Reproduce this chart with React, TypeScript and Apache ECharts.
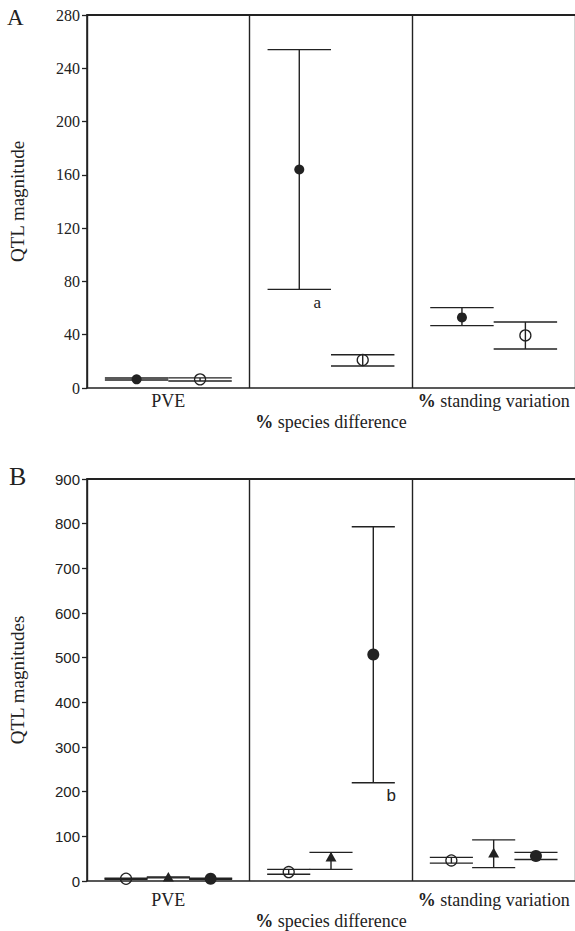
import React, { useEffect, useRef } from 'react';
import * as echarts from 'echarts';

const categories = ['PVE', '% species difference', '% standing variation'];

// Panel A (QTL magnitude)
const aFilledMean = [6.5, 164, 53];
const aFilledLow = [6, 74, 46.8];
const aFilledHigh = [7.5, 254, 60.3];
const aOpenMean = [6.5, 21, 39.5];
const aOpenLow = [5.3, 16.5, 29.3];
const aOpenHigh = [7.6, 25, 49.5];
const aNotes = ['', 'a', ''];

// Panel B (QTL magnitudes)
const bOpenMean = [5, 20, 46];
const bOpenLow = [4, 15, 40];
const bOpenHigh = [6, 26, 53];
const bTriMean = [8, 53, 62];
const bTriLow = [7, 26, 30];
const bTriHigh = [9, 64, 92];
const bFilledMean = [5, 507, 56];
const bFilledLow = [4, 220, 48];
const bFilledHigh = [6, 793, 64];
const bNotes = ['', 'b', ''];

const INK = '#222';
const SERIF = 'Liberation Serif';
const SANS = 'Liberation Sans';

function rows(mean: number[], low: number[], high: number[]) {
  return categories.map((_, i) => [i, mean[i], low[i], high[i]]);
}

function errRender(
  n: number,
  idx: number,
  spacing: number,
  capFrac: number,
  marker: 'filled' | 'open' | 'tri',
  r: number,
  notes: string[] | null,
  noteFamily: string,
  noteSize: number
) {
  return (params: any, api: any) => {
    const cat = api.value(0);
    const band = api.size([1, 0])[0];
    const base = api.coord([cat, 0]);
    const cx = base[0] + (idx - (n - 1) / 2) * spacing * band;
    const ym = api.coord([cat, api.value(1)])[1];
    const yl = api.coord([cat, api.value(2)])[1];
    const yh = api.coord([cat, api.value(3)])[1];
    const hw = (capFrac * band) / 2;
    const ls = { stroke: INK, lineWidth: 1.4 };
    const children: any[] = [
      { type: 'line', shape: { x1: cx, y1: yl, x2: cx, y2: yh }, style: ls },
      { type: 'line', shape: { x1: cx - hw, y1: yl, x2: cx + hw, y2: yl }, style: ls },
      { type: 'line', shape: { x1: cx - hw, y1: yh, x2: cx + hw, y2: yh }, style: ls },
    ];
    if (marker === 'filled') {
      children.push({ type: 'circle', shape: { cx, cy: ym, r }, style: { fill: INK } });
    } else if (marker === 'open') {
      children.push({
        type: 'circle',
        shape: { cx, cy: ym, r },
        style: { fill: 'none', stroke: INK, lineWidth: 1.3 },
      });
    } else {
      children.push({
        type: 'polygon',
        shape: { points: [[cx, ym - r], [cx - r, ym + r * 0.75], [cx + r, ym + r * 0.75]] },
        style: { fill: INK },
      });
    }
    const note = notes ? notes[params.dataIndex] : '';
    if (note) {
      children.push({
        type: 'text',
        style: {
          text: note,
          x: cx + 18,
          y: yl + 13,
          align: 'center',
          verticalAlign: 'middle',
          fontFamily: noteFamily,
          fontSize: noteSize,
          fill: INK,
        },
      });
    }
    return { type: 'group', children };
  };
}

function labelFormatter(value: string, index: number) {
  const rest = value.startsWith('% ') ? value.slice(2) : value;
  const head = value.startsWith('% ') ? '{b|%} ' : '';
  const line = head + '{t|' + rest + '}';
  return index === 1 ? '{t| }\n' + line : line;
}

export default function App() {
  const ref = useRef<HTMLDivElement>(null);
  useEffect(() => {
    if (!ref.current) return;
    const chart = echarts.init(ref.current, null, { renderer: 'svg' });

    const xBottom = (gridIndex: number, margin: number) => ({
      type: 'category',
      gridIndex,
      data: categories,
      position: 'bottom',
      axisLine: { show: true, lineStyle: { color: INK, width: 1.6 } },
      axisTick: { show: false },
      splitLine: { show: true, lineStyle: { color: INK, width: 1.4 } },
      axisLabel: {
        interval: 0,
        margin,
        color: INK,
        fontFamily: SERIF,
        fontSize: 18,
        lineHeight: 21,
        formatter: labelFormatter,
        rich: {
          t: { fontFamily: SERIF, fontSize: 18, color: INK, lineHeight: 21 },
          b: { fontFamily: SERIF, fontSize: 18, fontWeight: 'bold', color: INK, lineHeight: 21 },
        },
      },
    });
    const xTop = (gridIndex: number) => ({
      type: 'category',
      gridIndex,
      data: categories,
      position: 'top',
      axisLine: { show: true, lineStyle: { color: INK, width: 1.8 } },
      axisTick: { show: false },
      axisLabel: { show: false },
      splitLine: { show: false },
    });

    const option: any = {
      animation: false,
      backgroundColor: '#fff',
      textStyle: { fontFamily: SERIF },
      grid: [
        { left: 77, top: 15, width: 498, height: 373 },
        { left: 77, top: 479, width: 498, height: 405 },
      ],
      xAxis: [xBottom(0, 2), xTop(0), xBottom(1, 8), xTop(1)],
      yAxis: [
        {
          type: 'value',
          gridIndex: 0,
          min: 0,
          max: 280,
          interval: 40,
          name: 'QTL magnitude',
          nameLocation: 'middle',
          nameGap: 60,
          nameRotate: 90,
          nameTextStyle: { fontFamily: SERIF, fontSize: 19, color: INK },
          axisLine: { show: true, lineStyle: { color: INK, width: 1.6 } },
          axisTick: { show: true, length: 5, lineStyle: { color: INK, width: 1.3 } },
          axisLabel: { fontFamily: SERIF, fontSize: 16, color: INK, margin: 7 },
          splitLine: { show: false },
        },
        {
          type: 'value',
          gridIndex: 1,
          min: 0,
          max: 900,
          interval: 100,
          name: 'QTL magnitudes',
          nameLocation: 'middle',
          nameGap: 60,
          nameRotate: 90,
          nameTextStyle: { fontFamily: SERIF, fontSize: 19, color: INK },
          axisLine: { show: true, lineStyle: { color: INK, width: 1.6 } },
          axisTick: { show: true, length: 5, lineStyle: { color: INK, width: 1.3 } },
          axisLabel: { fontFamily: SANS, fontSize: 15, color: INK, margin: 7 },
          splitLine: { show: false },
        },
      ],
      graphic: [
        {
          type: 'text',
          left: 7,
          top: 6,
          style: { text: 'A', fontFamily: SERIF, fontSize: 23, fill: INK },
        },
        {
          type: 'text',
          left: 9,
          top: 463,
          style: { text: 'B', fontFamily: SERIF, fontSize: 26, fill: INK },
        },
      ],
      series: [
        {
          type: 'custom',
          name: 'A filled',
          xAxisIndex: 0,
          yAxisIndex: 0,
          renderItem: errRender(2, 0, 0.39, 0.39, 'filled', 5, aNotes, SERIF, 17),
          data: rows(aFilledMean, aFilledLow, aFilledHigh),
          encode: { x: 0, y: [1, 2, 3] },
          z: 3,
        },
        {
          type: 'custom',
          name: 'A open',
          xAxisIndex: 0,
          yAxisIndex: 0,
          renderItem: errRender(2, 1, 0.39, 0.39, 'open', 5.5, null, SERIF, 16),
          data: rows(aOpenMean, aOpenLow, aOpenHigh),
          encode: { x: 0, y: [1, 2, 3] },
          z: 3,
        },
        {
          type: 'custom',
          name: 'B open',
          xAxisIndex: 2,
          yAxisIndex: 1,
          renderItem: errRender(3, 0, 0.26, 0.265, 'open', 5.5, null, SERIF, 16),
          data: rows(bOpenMean, bOpenLow, bOpenHigh),
          encode: { x: 0, y: [1, 2, 3] },
          z: 3,
        },
        {
          type: 'custom',
          name: 'B triangle',
          xAxisIndex: 2,
          yAxisIndex: 1,
          renderItem: errRender(3, 1, 0.26, 0.265, 'tri', 5.5, null, SERIF, 16),
          data: rows(bTriMean, bTriLow, bTriHigh),
          encode: { x: 0, y: [1, 2, 3] },
          z: 3,
        },
        {
          type: 'custom',
          name: 'B filled',
          xAxisIndex: 2,
          yAxisIndex: 1,
          renderItem: errRender(3, 2, 0.26, 0.265, 'filled', 6, bNotes, SANS, 17),
          data: rows(bFilledMean, bFilledLow, bFilledHigh),
          encode: { x: 0, y: [1, 2, 3] },
          z: 3,
        },
      ],
    };
    chart.setOption(option);
    return () => chart.dispose();
  }, []);
  return (
    <div
      ref={ref}
      style={{ position: 'absolute', left: 0, top: 0, width: 575, height: 931, background: '#fff' }}
    />
  );
}
